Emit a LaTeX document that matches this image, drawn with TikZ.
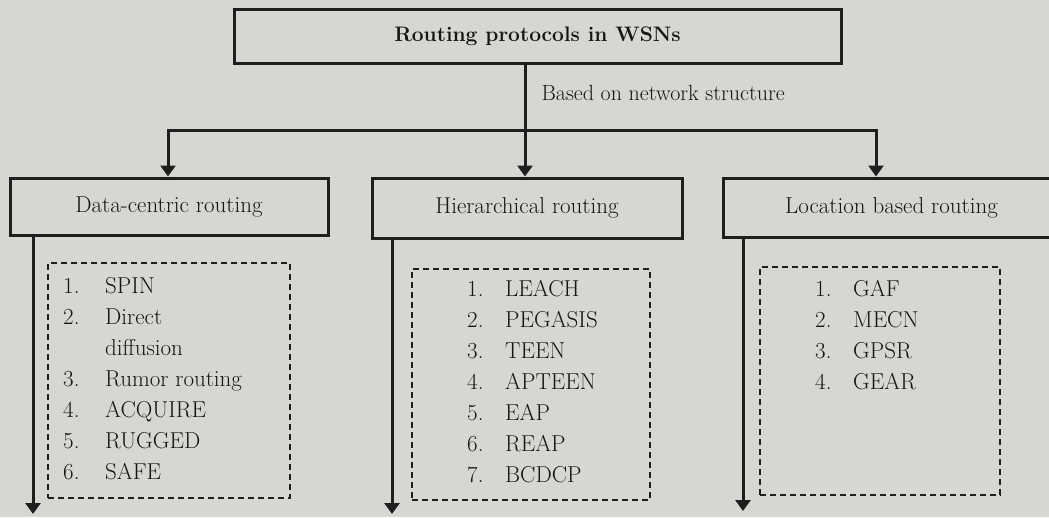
\documentclass[tikz,border=0pt]{standalone}
\usepackage{tikz}
\usetikzlibrary{arrows.meta}
\usepackage{xcolor}
\definecolor{Paper}{RGB}{214,214,210}
\definecolor{Ink}{RGB}{30,30,30}
\definecolor{TextInk}{RGB}{22,22,22}

\begin{document}
\begin{tikzpicture}[x=1pt, y=-1pt, every node/.style={font=\fontsize{23}{31}\selectfont, text=TextInk}]
  \tikzstyle{box}=[draw=Ink, line width=3pt, fill=Paper, inner sep=0pt]
  \tikzstyle{listbox}=[draw=Ink, line width=1.2pt, dash pattern=on 6pt off 4pt, inner sep=0pt]
  \tikzstyle{arr}=[-{Triangle[width=15pt,length=11pt]}, line width=3pt, draw=Ink]
  \fill[Paper] (0,0) rectangle (1049,517);
  \useasboundingbox (0,0) rectangle (1049,517);
  % boxes
  \node[box, minimum width=607pt, minimum height=54pt,
        font=\fontsize{21}{25}\selectfont\bfseries] (root) at (537.5,36) {Routing protocols in WSNs};
  \node[box, minimum width=318pt, minimum height=57pt] (dc) at (169,206.5) {Data-centric routing};
  \node[box, minimum width=310pt, minimum height=60pt] (hr) at (527,208) {Hierarchical routing};
  \node[box, minimum width=337pt, minimum height=59pt] (lb) at (891.5,207.5) {Location based routing};
  \node[anchor=west, font=\fontsize{22}{26}\selectfont] (struct) at (538,93) {Based on network structure};
  % branches
  \coordinate (split) at (525,130);
  \coordinate (barL) at (168,130);
  \coordinate (barR) at (876,130);
  \draw[arr] (root.south -| split) -- (hr.north -| split);
  \draw[arr] (split) -| (dc.north -| barL);
  \draw[arr] (split) -| (lb.north -| barR);
  \coordinate (dcend) at (33,514);
  \coordinate (hrend) at (392,514);
  \coordinate (lbend) at (743,511);
  \draw[arr] (dc.south -| dcend) -- (dcend);
  \draw[arr] (hr.south -| hrend) -- (hrend);
  \draw[arr] (lb.south -| lbend) -- (lbend);
  % lists
  \node[listbox, minimum width=242pt, minimum height=235pt] (dclist) at (169,380.5) {};
  \node[listbox, minimum width=238pt, minimum height=231pt] (hrlist) at (531,384.5) {};
  \node[listbox, minimum width=240pt, minimum height=228pt] (lblist) at (880,381) {};
  \node[anchor=base west, inner sep=0pt] (dcitems) at (63,293) {%
    \begin{tabular}[t]{@{}p{42pt}@{}l@{}}
      1. & SPIN\\
      2. & Direct\\
         & diffusion\\
      3. & Rumor routing\\
      4. & ACQUIRE\\
      5. & RUGGED\\
      6. & SAFE
    \end{tabular}};
  \node[anchor=base west, inner sep=0pt] (hritems) at (467,296) {%
    \begin{tabular}[t]{@{}p{38pt}@{}l@{}}
      1. & LEACH\\
      2. & PEGASIS\\
      3. & TEEN\\
      4. & APTEEN\\
      5. & EAP\\
      6. & REAP\\
      7. & BCDCP
    \end{tabular}};
  \node[anchor=base west, inner sep=0pt] (lbitems) at (815,296) {%
    \begin{tabular}[t]{@{}p{38pt}@{}l@{}}
      1. & GAF\\
      2. & MECN\\
      3. & GPSR\\
      4. & GEAR
    \end{tabular}};
\end{tikzpicture}
\end{document}
